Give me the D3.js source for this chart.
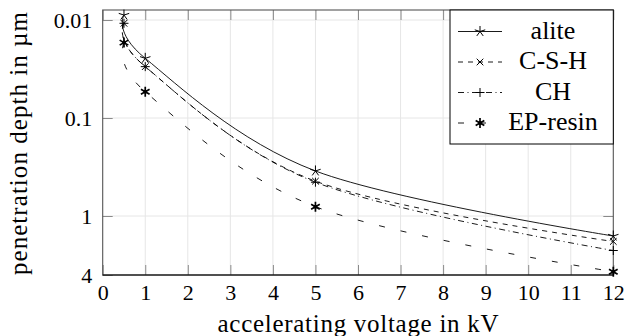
<!DOCTYPE html>
<html><head><meta charset="utf-8">
<script src="https://cdn.jsdelivr.net/npm/d3@7"></script>
<style>
body{margin:0;background:#fff}
svg{display:block}
svg text{font-family:'Liberation Serif',Tinos,'Times New Roman',serif !important;}
</style>
</head><body>
<svg id="c" width="628" height="336"></svg>
<script>
// ---- data ----
const voltage = [0.5, 1, 5, 12];
const alite   = [0.0089, 0.0246, 0.347, 1.60];
const csh     = [0.0108, 0.0299, 0.441, 1.82];
const ch      = [0.0108, 0.0299, 0.452, 2.25];
const epResin = [0.0170, 0.0539, 0.803, 3.70];
const seriesNames = ["alite", "C-S-H", "CH", "EP-resin"];
const xTicks = [0,1,2,3,4,5,6,7,8,9,10,11,12];
const yTicks = [0.01, 0.1, 1, 4];
const yTickLabels = ["0.01", "0.1", "1", "4"];
const yGrid = [0.01, 0.1, 1];
const xLabel = "accelerating voltage in kV";
const yLabel = "penetration depth in µm";

// ---- layout ----
const FONT = "Liberation Serif";
const L = 102.7, R = 613.3, T = 10, B = 275;
const svg = d3.select("#c");
const x = d3.scaleLinear().domain([0, 12]).range([L, R]);
const y = d3.scaleLog().domain([0.0079, 4]).range([T, B]);

// grid
const g = svg.append("g");
g.selectAll(".vg").data(xTicks.filter(v => v > 0 && v < 12)).enter().append("line")
  .attr("x1", d => x(d)).attr("x2", d => x(d)).attr("y1", T).attr("y2", B)
  .attr("stroke", "#e6e6e6").attr("stroke-width", 1);
g.selectAll(".hg").data(yGrid).enter().append("line")
  .attr("x1", L).attr("x2", R).attr("y1", d => y(d)).attr("y2", d => y(d))
  .attr("stroke", "#e6e6e6").attr("stroke-width", 1);

// axes (ticks inward)
const tickCol = "#8a8a8a";
const ax = svg.append("g").attr("transform", `translate(0,${B})`)
  .call(d3.axisBottom(x).tickValues(xTicks).tickFormat(d3.format("d")).tickSize(-10));
ax.select(".domain").remove();
ax.selectAll(".tick line").attr("stroke", tickCol);
ax.selectAll(".tick text").attr("y", 25).attr("dy", null)
  .attr("font-family", FONT).attr("font-size", 22).attr("fill", "#000");

const axT = svg.append("g").attr("transform", `translate(0,${T})`)
  .call(d3.axisTop(x).tickValues(xTicks).tickSize(-10).tickFormat(""));
axT.select(".domain").remove();
axT.selectAll(".tick line").attr("stroke", tickCol);
axT.selectAll(".tick text").remove();

const ay = svg.append("g").attr("transform", `translate(${L},0)`)
  .call(d3.axisLeft(y).tickValues(yTicks).tickSize(-10)
    .tickFormat((d, i) => yTickLabels[i]));
ay.select(".domain").remove();
ay.selectAll(".tick line").attr("stroke", tickCol);
ay.selectAll(".tick text").attr("x", -10.5).attr("dy", "0.34em")
  .attr("font-family", FONT).attr("font-size", 22).attr("fill", "#000");

const ayR = svg.append("g").attr("transform", `translate(${R},0)`)
  .call(d3.axisRight(y).tickValues(yGrid).tickSize(-10).tickFormat(""));
ayR.select(".domain").remove();
ayR.selectAll(".tick line").attr("stroke", tickCol);
ayR.selectAll(".tick text").remove();

// frame
svg.append("rect").attr("x", L).attr("y", T).attr("width", R - L).attr("height", B - T)
  .attr("fill", "none").attr("stroke", "#555").attr("stroke-width", 1.1);
svg.append("line").attr("x1", L).attr("x2", R).attr("y1", B).attr("y2", B)
  .attr("stroke", "#000").attr("stroke-width", 1.2);

// markers
function starPath(r) {
  let p = "";
  for (let k = 0; k < 5; k++) {
    const a = (-90 + 72 * k) * Math.PI / 180;
    p += `M0,0L${(r * Math.cos(a)).toFixed(2)},${(r * Math.sin(a)).toFixed(2)}`;
  }
  return p;
}
function xPath(r) { return `M${-r},${-r}L${r},${r}M${-r},${r}L${r},${-r}`; }
function plusPath(r) { return `M${-r},0L${r},0M0,${-r}L0,${r}`; }
function asteriskPath(r) {
  let p = "";
  for (let k = 0; k < 3; k++) {
    const a = (90 + 60 * k) * Math.PI / 180;
    const cx = r * Math.cos(a), cy = r * Math.sin(a);
    p += `M${(-cx).toFixed(2)},${(-cy).toFixed(2)}L${cx.toFixed(2)},${cy.toFixed(2)}`;
  }
  return p;
}

const series = [
  { name: seriesNames[0], vals: alite,   dash: null,          mark: starPath(5.5),   mw: 1.0, dot: false },
  { name: seriesNames[1], vals: csh,     dash: "5,5",         mark: xPath(3.3),      mw: 1.0, dot: false },
  { name: seriesNames[2], vals: ch,      dash: "6,3.5,1,3.5", mark: plusPath(4.5),   mw: 1.0, dot: false },
  { name: seriesNames[3], vals: epResin, dash: "6,16",        mark: asteriskPath(5), mw: 1.7, dot: true }
];

const line = d3.line().x(d => x(d[0])).y(d => y(d[1])).curve(d3.curveCardinal.tension(0));

svg.append("clipPath").attr("id", "clip").append("rect")
  .attr("x", L).attr("y", T).attr("width", R - L).attr("height", B - T);

const lg = svg.append("g").attr("clip-path", "url(#clip)");
series.forEach(s => {
  const pts = voltage.map((v, i) => [v, s.vals[i]]);
  lg.append("path").attr("d", line(pts)).attr("fill", "none")
    .attr("stroke", "#000").attr("stroke-width", 0.9)
    .attr("stroke-dasharray", s.dash);
});
series.forEach(s => {
  const pts = voltage.map((v, i) => [v, s.vals[i]]);
  const mg = svg.append("g");
  mg.selectAll("path").data(pts).enter().append("path")
    .attr("transform", d => `translate(${x(d[0])},${y(d[1])})`)
    .attr("d", s.mark).attr("fill", "none").attr("stroke", "#000").attr("stroke-width", s.mw);
  if (s.dot) {
    mg.selectAll("circle").data(pts).enter().append("circle")
      .attr("cx", d => x(d[0])).attr("cy", d => y(d[1])).attr("r", 1.9).attr("fill", "#000");
  }
});

// legend
const lgX = 450, lgY = 10, lgW = 163.3, lgH = 134;
const leg = svg.append("g");
leg.append("rect").attr("x", lgX).attr("y", lgY).attr("width", lgW).attr("height", lgH)
  .attr("fill", "#fff").attr("stroke", "#000").attr("stroke-width", 1);
const legBase = [38.5, 69, 99.5, 130];
series.forEach((s, i) => {
  const cy = legBase[i] - 7;
  leg.append("line").attr("x1", 458).attr("x2", 502).attr("y1", cy).attr("y2", cy)
    .attr("stroke", "#000").attr("stroke-width", 0.9).attr("stroke-dasharray", s.dash);
  leg.append("path").attr("transform", `translate(480,${cy})`).attr("d", s.mark)
    .attr("fill", "none").attr("stroke", "#000").attr("stroke-width", s.mw);
  if (s.dot) leg.append("circle").attr("cx", 480).attr("cy", cy).attr("r", 1.9).attr("fill", "#000");
  leg.append("text").attr("x", 553).attr("y", legBase[i]).attr("text-anchor", "middle")
    .attr("font-family", FONT).attr("font-size", 26)
    .text(s.name);
});

// axis labels
svg.append("text").attr("x", (L + R) / 2).attr("y", 332).attr("text-anchor", "middle")
  .attr("font-family", FONT).attr("font-size", 25)
  .attr("textLength", 281).attr("lengthAdjust", "spacing")
  .text(xLabel);
svg.append("text").attr("transform", "translate(27,143.5) rotate(-90)").attr("text-anchor", "middle")
  .attr("font-family", FONT).attr("font-size", 25)
  .attr("textLength", 263).attr("lengthAdjust", "spacing")
  .text(yLabel);
</script>
</body></html>
